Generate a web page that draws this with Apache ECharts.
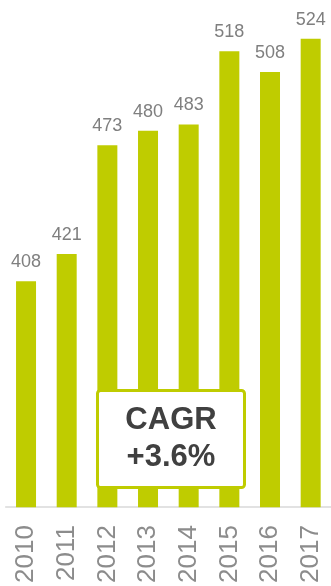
<!DOCTYPE html>
<html>
<head>
<meta charset="utf-8">
<style>
  html, body { margin: 0; padding: 0; background: #ffffff; }
  #chart { width: 331px; height: 586px; }
</style>
<script src="https://cdn.jsdelivr.net/npm/echarts@6/dist/echarts.min.js"></script>
</head>
<body>
<div id="chart"></div>
<script>
// Years on the category axis
const years = ['2010', '2011', '2012', '2013', '2014', '2015', '2016', '2017'];
// Yearly values shown on top of each bar
const values = [408, 421, 473, 480, 483, 518, 508, 524];
// Compound annual growth callout
const cagrLines = ['CAGR', '+3.6%'];

const GREEN = '#bfcc00';

const chart = echarts.init(document.getElementById('chart'), null, { renderer: 'canvas' });

chart.setOption({
  animation: false,
  grid: { left: 5.7, top: 1, width: 330, height: 508.5, containLabel: false },
  xAxis: {
    type: 'category',
    data: years,
    axisLine: { show: true, lineStyle: { color: '#d9d9d9', width: 1.5 } },
    axisTick: { show: false },
    axisLabel: {
      rotate: 90,
      margin: 18,
      color: '#8c8c8c',
      fontFamily: 'Liberation Sans, Arial, sans-serif',
      fontSize: 26,
      interval: 0
    }
  },
  yAxis: {
    type: 'value',
    min: 300,
    max: 542,
    show: false,
    splitLine: { show: false }
  },
  series: [{
    type: 'bar',
    data: values,
    barWidth: 20,
    itemStyle: { color: GREEN },
    label: {
      show: true,
      position: 'top',
      distance: 10,
      color: '#7f7f7f',
      fontFamily: 'Liberation Sans, Arial, sans-serif',
      fontSize: 18
    }
  }],
  graphic: [{
    type: 'group',
    left: 96,
    top: 389,
    z: 100,
    children: [{
      type: 'rect',
      z: 100,
      shape: { x: 1.5, y: 1.5, width: 147, height: 97, r: 3 },
      style: { fill: '#ffffff', stroke: GREEN, lineWidth: 3 }
    }, {
      type: 'text',
      z: 101,
      x: 75,
      y: 50,
      style: {
        text: cagrLines.join('\n'),
        fill: '#404040',
        font: 'bold 31px "Liberation Sans", Arial, sans-serif',
        lineHeight: 37,
        align: 'center',
        verticalAlign: 'middle'
      }
    }]
  }]
});
</script>
</body>
</html>
